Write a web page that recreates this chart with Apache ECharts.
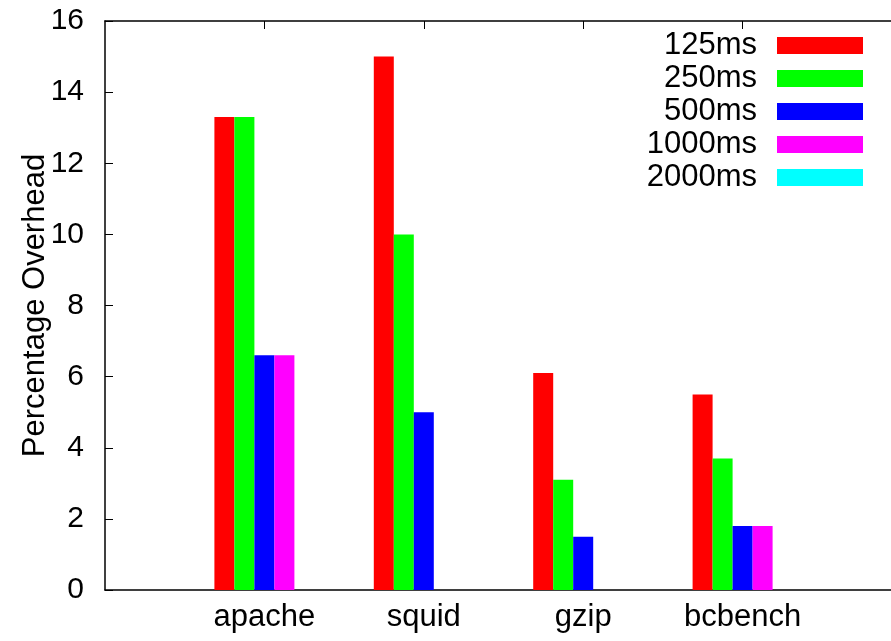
<!DOCTYPE html>
<html>
<head>
<meta charset="utf-8">
<script src="https://cdn.jsdelivr.net/npm/echarts@6/dist/echarts.min.js"></script>
<style>
html,body{margin:0;padding:0;background:#fff;overflow:hidden;}
#chart{width:891px;height:641px;}
</style>
</head>
<body>
<div id="chart"></div>
<script>
const categories = ['', 'apache', 'squid', 'gzip', 'bcbench', ''];
const seriesNames = ['125ms', '250ms', '500ms', '1000ms', '2000ms'];
const s125 = [null, 13.3, 15.0, 6.1, 5.5, null];
const s250 = [null, 13.3, 10.0, 3.1, 3.7, null];
const s500 = [null, 6.6, 5.0, 1.5, 1.8, null];
const s1000 = [null, 6.6, 0, 0, 1.8, null];
const s2000 = [null, 0, 0, 0, 0, null];
const yTicks = [0, 2, 4, 6, 8, 10, 12, 14, 16];
const colors = ['#ff0000', '#00ff00', '#0000ff', '#ff00ff', '#00ffff'];

const FONT = '"Liberation Sans", Arial, sans-serif';
const allData = [s125, s250, s500, s1000, s2000];

const chart = echarts.init(document.getElementById('chart'), null, {renderer: 'canvas'});
chart.setOption({
  animation: false,
  backgroundColor: '#fff',
  color: colors,
  textStyle: {fontFamily: FONT},
  grid: {left: 105, width: 797, top: 21, height: 569, containLabel: false, outerBoundsMode: 'none'},
  legend: {
    orient: 'vertical',
    right: 28,
    top: 30,
    padding: 0,
    align: 'right',
    itemWidth: 86,
    itemHeight: 17,
    itemGap: 2,
    icon: 'rect',
    data: seriesNames,
    textStyle: {fontFamily: FONT, fontSize: 31, color: '#000', lineHeight: 30, padding: [0, 15, 0, 0]}
  },
  xAxis: [
    {
      type: 'category',
      data: categories,
      boundaryGap: false,
      position: 'bottom',
      axisLine: {show: true, lineStyle: {color: '#000', width: 1.5}},
      axisTick: {show: false},
      axisLabel: {fontFamily: FONT, fontSize: 31, color: '#000', margin: 12, interval: 0},
      splitLine: {show: false}
    },
    {
      type: 'category',
      data: categories,
      boundaryGap: false,
      position: 'top',
      axisLine: {show: true, lineStyle: {color: '#000', width: 1.5}},
      axisTick: {show: true, inside: true, length: 8, lineStyle: {color: '#000', width: 1},
        interval: function (idx) { return idx > 0 && idx < categories.length - 1; }},
      axisLabel: {show: false},
      splitLine: {show: false}
    }
  ],
  yAxis: {
    type: 'value',
    min: yTicks[0],
    max: yTicks[yTicks.length - 1],
    interval: 2,
    name: 'Percentage Overhead',
    nameLocation: 'middle',
    nameRotate: 90,
    nameGap: 54,
    nameMoveOverlap: false,
    nameTextStyle: {fontFamily: FONT, fontSize: 31, color: '#000'},
    axisLine: {show: true, lineStyle: {color: '#000', width: 1.5}},
    axisTick: {show: true, inside: true, length: 8, lineStyle: {color: '#000', width: 1}},
    axisLabel: {fontFamily: FONT, fontSize: 30, color: '#000', margin: 21},
    splitLine: {show: false}
  },
  series: seriesNames.map((name, i) => ({
    name: name,
    type: 'bar',
    xAxisIndex: 0,
    data: allData[i],
    barWidth: 20,
    barGap: '0%',
    itemStyle: {color: colors[i]}
  }))
});
</script>
</body>
</html>
